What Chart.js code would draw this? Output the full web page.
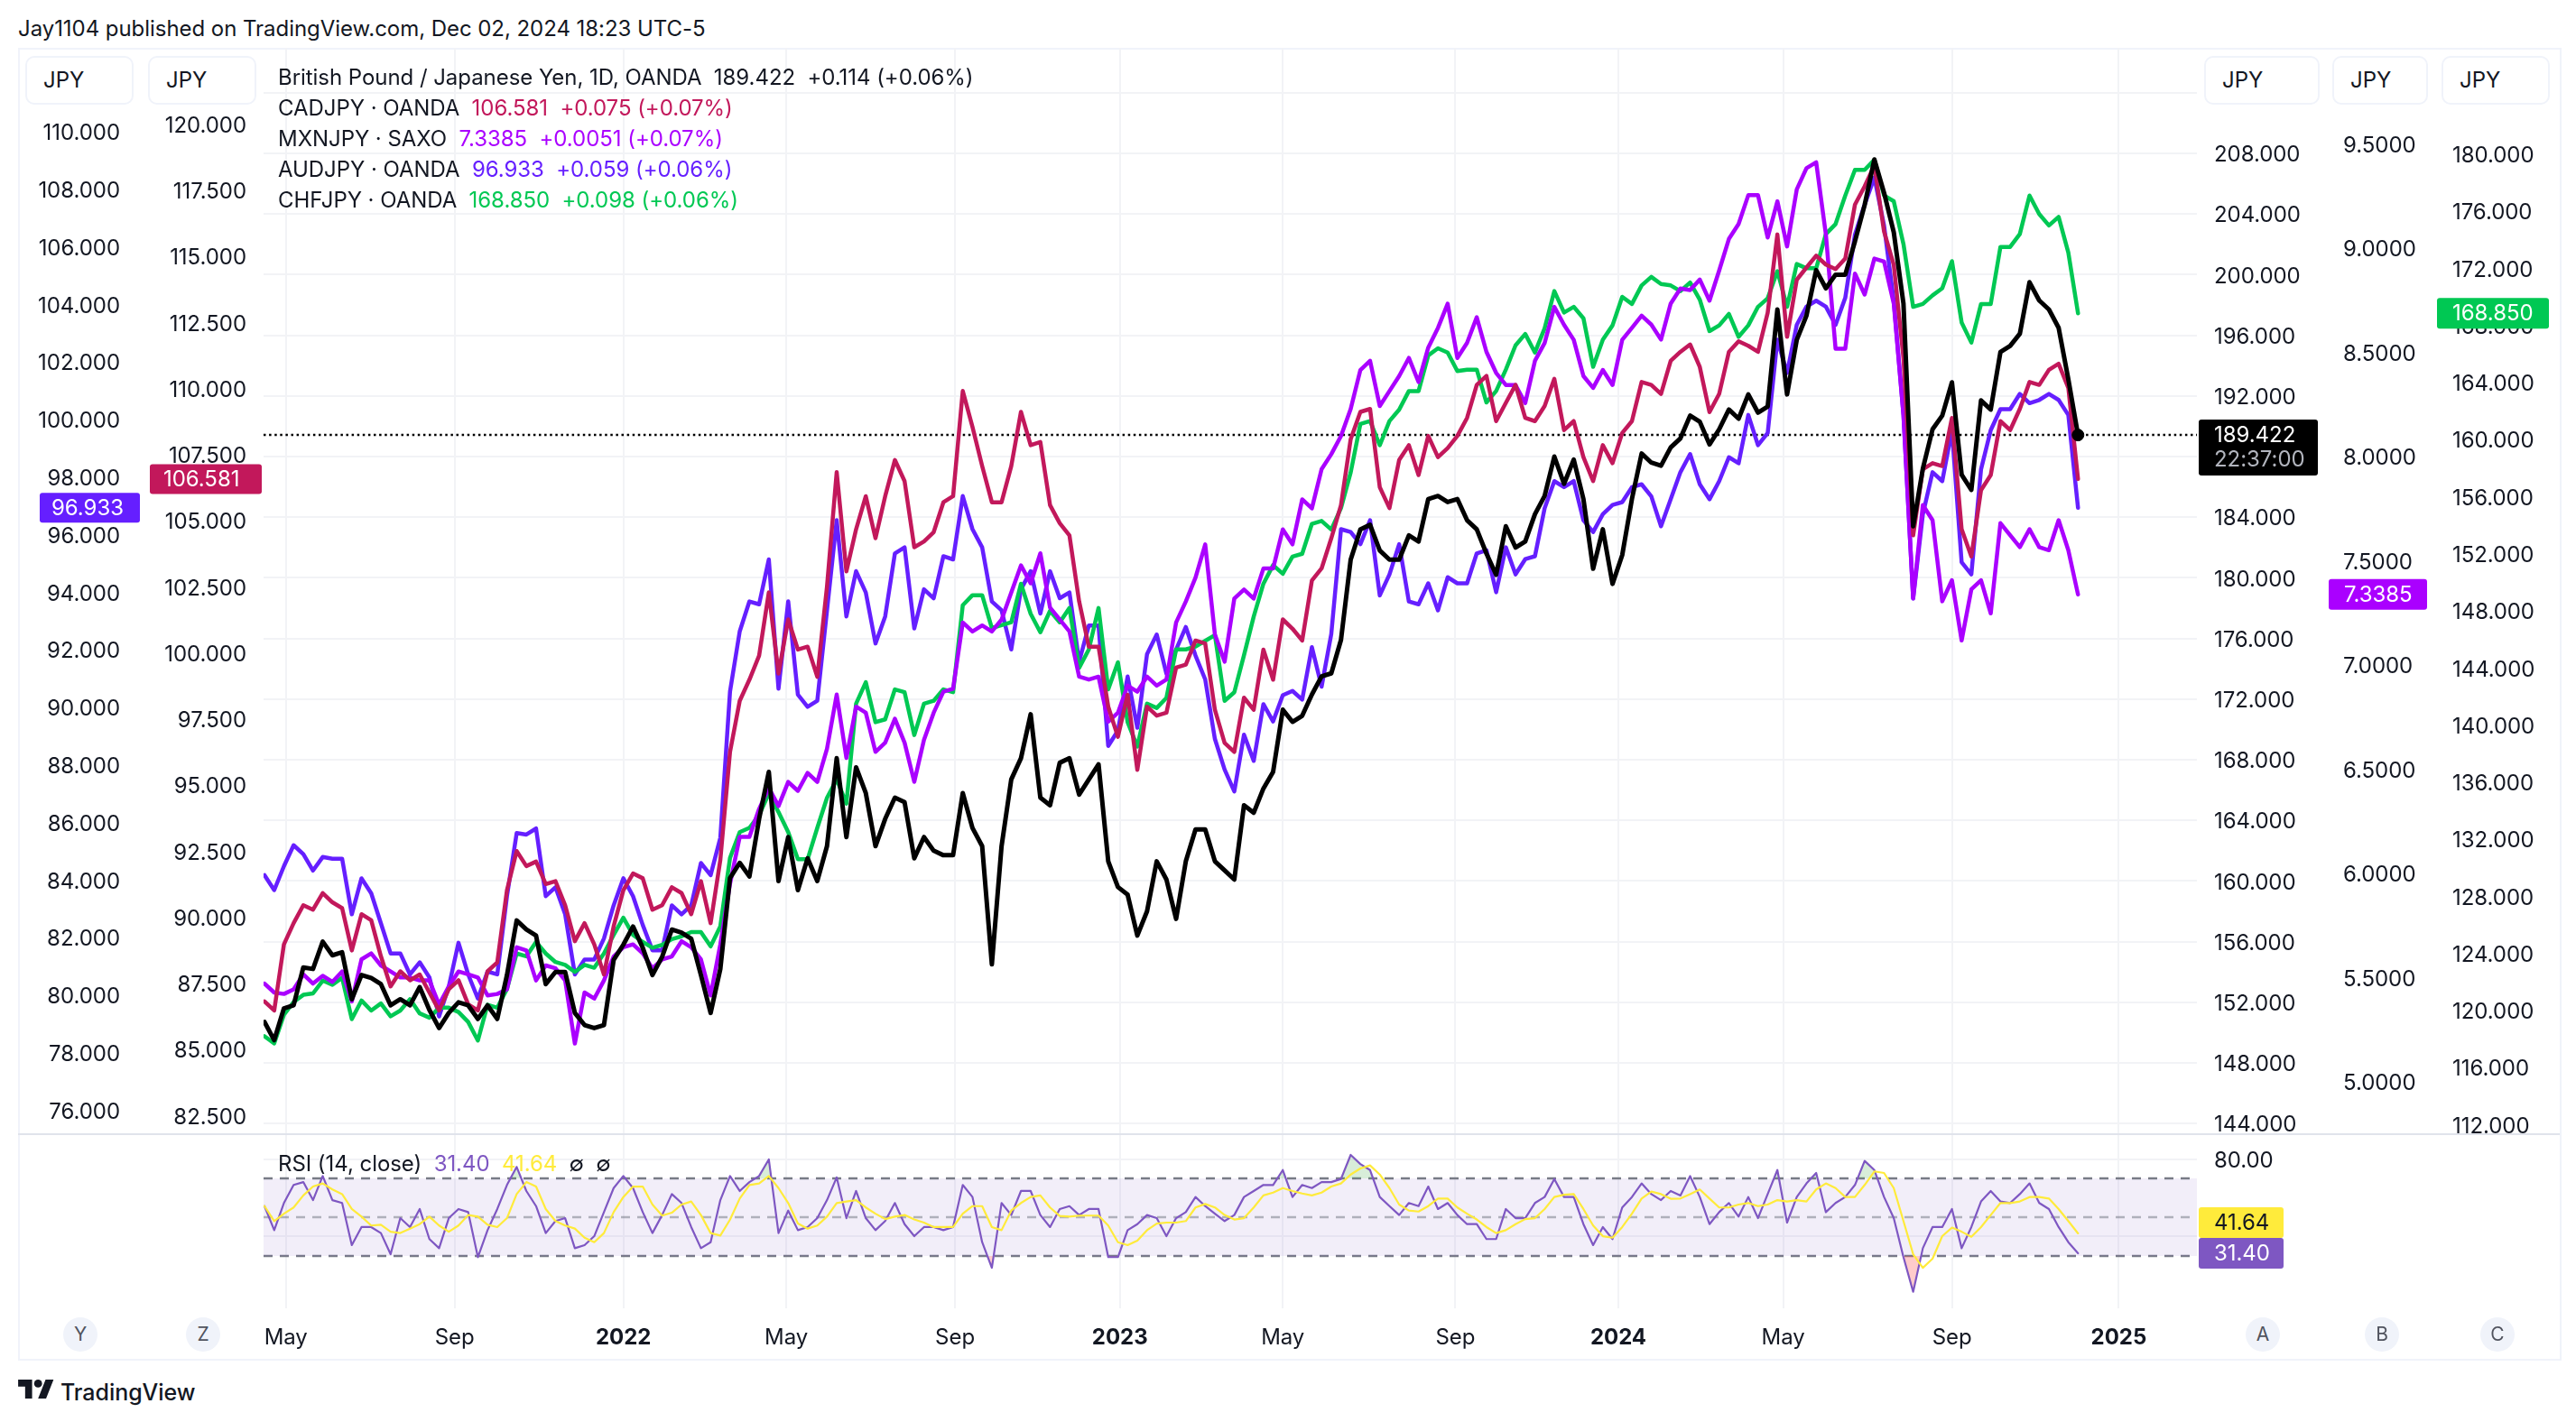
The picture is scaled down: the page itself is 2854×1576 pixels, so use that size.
<!DOCTYPE html>
<html>
<head>
<meta charset="utf-8">
<title>GBPJPY</title>
<script src="https://cdn.jsdelivr.net/npm/chart.js@4"></script>
<style>
html,body{margin:0;padding:0;background:#fff}
body{width:2854px;height:1576px;position:relative;overflow:hidden;font-family:Inter,sans-serif;color:#131722;font-size:24px;letter-spacing:-0.05px}
canvas{position:absolute;left:0}
.t{position:absolute;white-space:pre;line-height:34px;z-index:3}
.frame{position:absolute;left:20px;top:53px;width:2814px;height:1451px;border:2px solid #f0f3fa;box-sizing:content-box;z-index:0}
.sep{position:absolute;left:20px;top:1256px;width:2816px;height:2px;background:#e0e3eb;z-index:3}
.btn{position:absolute;top:62px;height:50px;border:2px solid #f0f3fa;border-radius:10px;background:#fff;z-index:3;line-height:50px;box-sizing:content-box}
.btn span{position:absolute;top:0}
.dot{position:absolute;top:1460px;width:38px;height:38px;border-radius:19px;background:#f0f3fa;color:#50535e;text-align:center;line-height:38px;font-size:21px;z-index:3}
</style>
</head>
<body>
<div class="t" style="left:20px;top:15px">Jay1104 published on TradingView.com, Dec 02, 2024 18:23 UTC-5</div>
<div class="frame"></div>
<canvas id="mainChart" style="top:53px"></canvas>
<canvas id="rsiChart" style="top:1257px"></canvas>
<div class="sep"></div>

<div class="btn" style="left:28px;width:116px"><span style="left:18px">JPY</span></div>
<div class="btn" style="left:164px;width:116px"><span style="left:18px">JPY</span></div>
<div class="btn" style="left:2442px;width:124px"><span style="left:18px">JPY</span></div>
<div class="btn" style="left:2584px;width:102px"><span style="left:18px">JPY</span></div>
<div class="btn" style="left:2705px;width:116px"><span style="left:18px">JPY</span></div>

<div class="t" style="left:308px;top:69px">British Pound / Japanese Yen, 1D, OANDA  189.422  +0.114 (+0.06%)</div>
<div class="t" style="left:308px;top:103px">CADJPY · OANDA  <span style="color:#c2185b">106.581  +0.075 (+0.07%)</span></div>
<div class="t" style="left:308px;top:137px">MXNJPY · SAXO  <span style="color:#aa00ff">7.3385  +0.0051 (+0.07%)</span></div>
<div class="t" style="left:308px;top:171px">AUDJPY · OANDA  <span style="color:#651fff">96.933  +0.059 (+0.06%)</span></div>
<div class="t" style="left:308px;top:205px">CHFJPY · OANDA  <span style="color:#00c853">168.850  +0.098 (+0.06%)</span></div>
<div class="t" style="left:308px;top:1273px">RSI (14, close)  <span style="color:#7e57c2">31.40</span>  <span style="color:#ffeb3b">41.64</span>  ∅  ∅</div>

<div class="dot" style="left:70px">Y</div>
<div class="dot" style="left:206px">Z</div>
<div class="dot" style="left:2488px">A</div>
<div class="dot" style="left:2620px">B</div>
<div class="dot" style="left:2748px">C</div>

<svg style="position:absolute;left:20px;top:1529px;z-index:3" width="40" height="21" viewBox="0 0 36 19"><path d="M14 19H7V7H0V0h14v19zM28 19h-8L27.500 0h8L28 19z" fill="#131722"/><circle cx="20" cy="4" r="4" fill="#131722"/></svg>
<div class="t" style="left:67px;top:1526px;font-size:25px;font-weight:500">TradingView</div>

<script>
// donnees, un point tous les 5 jours de bourse
const gbpjpy = [150.7,149.5,151.6,151.8,154.3,154.2,156.0,155.1,155.3,152.2,153.8,153.6,153.2,151.8,152.2,151.8,153.0,151.5,150.3,151.3,152.0,151.8,150.9,151.8,150.9,153.8,157.4,156.8,156.4,153.2,154.0,154.0,151.3,150.5,150.3,150.5,154.8,155.8,157.0,155.6,153.8,155.0,156.8,156.6,156.2,153.8,151.3,154.2,160.2,
161.2,160.3,164.1,167.2,160,162.9,159.4,161.5,160,162.3,168.1,162.9,167.5,165.8,162.3,164.1,165.5,165.2,161.5,162.9,162,161.7,161.7,165.8,163.5,162.3,154.5,162.3,166.7,168.1,171,165.5,165,167.8,168.1,165.7,166.7,167.7,
161.3,159.6,159.1,156.4,158,161.3,160.1,157.5,161.3,163.4,163.4,161.3,160.7,160.1,165,164.5,166.1,167.2,
171.3,170.5,170.9,172.3,173.5,173.7,175.9,181.2,183.2,183.5,181.8,181.2,181.2,182.8,182.4,185.2,185.4,185,185.2,183.8,183.2,181.6,180.2,183.4,182,182.4,184.2,185.4,188,186.2,187.8,185.2,180.6,183.2,179.6,181.5,185.2,
188.2,187.6,187.4,188.6,189.2,190.7,190.3,188.8,189.8,191.1,190.5,192.1,190.9,191.3,197.7,192.1,195.7,197.3,200.3,199.1,200,200,202.2,204.6,207.6,205.4,202.8,198.1,183.4,187.2,189.8,190.7,192.9,186.8,185.8,191.7,191.1,194.9,195.3,196.1,199.5,198.3,197.7,196.5,193.1,189.422]

const cadjpy = [86.82,86.48,88.98,89.78,90.46,90.29,90.92,90.57,90.35,88.75,90.12,89.89,88.53,87.39,87.96,87.62,87.84,87.16,86.48,87.28,87.62,86.71,86.48,87.96,88.3,91.03,92.51,91.94,92.11,91.26,91.37,90.46,89.1,89.78,88.98,87.84,89.66,91.03,91.66,91.48,90.29,90.46,91.14,90.92,90.12,91.37,89.78,92.17,
96.26,98.19,98.99,99.9,102.29,99.22,101.27,100.13,100.24,99.1,102.52,106.84,103.09,104.68,105.93,104.34,105.93,107.3,106.5,104,104.22,104.57,105.7,105.93,109.91,108.55,107.07,105.7,105.7,107.07,109.12,107.86,107.98,105.59,104.91,104.45,101.95,100.24,100.24,97.97,96.83,98.42,95.58,97.97,97.63,97.74,
99.45,99.56,100.47,100.36,97.85,96.6,96.26,98.31,97.85,100.13,98.99,101.27,100.92,100.47,102.74,103.2,104.34,105.59,108.09,109.12,109.23,106.27,105.48,107.3,107.86,106.73,108.21,107.41,107.75,108.21,108.89,110.14,110.48,108.77,109.46,110.14,108.89,108.77,109.34,110.37,108.43,108.77,107.41,106.5,107.86,107.18,108.32,108.77,
110.25,110.14,109.8,111.05,111.39,111.67,110.82,109.11,109.8,111.39,111.79,111.62,111.39,112.87,115.83,111.96,114.12,114.58,115.03,114.69,114.52,114.92,116.96,117.65,118.44,115.94,114.69,111.16,104.45,106.95,107.18,107.07,108.89,104.68,103.65,106.16,106.73,108.77,108.43,109.23,110.25,110.14,110.71,110.94,110.03,106.581]

const mxnjpy = [5.471,5.428,5.421,5.443,5.515,5.471,5.508,5.479,5.529,5.385,5.587,5.616,5.558,5.529,5.5,5.5,5.486,5.486,5.37,5.457,5.529,5.515,5.5,5.414,5.421,5.443,5.645,5.63,5.486,5.558,5.544,5.486,5.183,5.428,5.399,5.486,5.601,5.645,5.659,5.616,5.544,5.587,5.601,5.674,5.645,5.587,5.414,5.659,5.95,
6.175,6.175,6.309,6.41,6.323,6.439,6.396,6.482,6.439,6.598,6.858,6.554,6.8,6.771,6.583,6.627,6.742,6.627,6.439,6.641,6.771,6.872,6.886,7.204,7.161,7.19,7.161,7.218,7.348,7.478,7.392,7.536,7.276,7.218,7.161,6.944,6.93,6.944,6.728,6.771,6.901,6.872,6.944,6.901,6.93,
7.204,7.305,7.42,7.579,7.146,7.016,7.319,7.362,7.319,7.463,7.463,7.651,7.579,7.795,7.752,7.94,8.012,8.099,8.229,8.416,8.46,8.243,8.315,8.387,8.474,8.358,8.524,8.618,8.734,8.474,8.546,8.669,8.503,8.402,8.344,8.344,8.257,8.46,8.546,8.719,8.633,8.561,8.387,8.33,8.416,8.344,8.561,8.618,
8.677,8.634,8.562,8.735,8.807,8.8,8.85,8.749,8.894,9.045,9.117,9.255,9.255,9.052,9.226,9.009,9.283,9.385,9.413,9.067,8.518,8.518,8.879,8.778,8.951,8.937,8.735,8.2,7.32,7.768,7.695,7.306,7.407,7.118,7.363,7.407,7.248,7.681,7.623,7.566,7.652,7.566,7.551,7.695,7.551,7.3385]

const audjpy = [84.17,83.65,84.48,85.21,84.9,84.33,84.8,84.74,84.74,82.81,84.06,83.54,82.5,81.45,81.45,80.72,81.14,80.62,79.26,80.3,81.82,80.72,79.88,80.82,80.72,83.44,85.63,85.58,85.79,83.44,83.75,82.81,80.72,81.24,81.24,81.97,83.12,84.06,83.44,82.44,81.56,81.56,83.12,82.81,83.12,84.59,84.17,85.47,
90.55,92.64,93.68,93.58,95.14,90.65,93.68,90.44,90.02,90.23,93.37,96.5,93.16,94.73,93.99,92.22,93.16,95.35,95.56,92.74,94.1,93.79,95.25,95.14,97.34,96.19,95.56,93.68,93.37,92.01,94.1,94.73,93.26,94.73,93.79,93.99,91.59,92.84,92.84,88.66,89.19,91.07,89.29,91.85,92.53,91.17,
92.01,92.79,91.8,90.97,88.9,87.84,87.08,89.05,88.14,90.11,89.51,90.42,90.57,90.27,92.09,90.72,92.55,96.19,
96.09,95.67,96.5,93.89,94.62,95.67,93.68,93.58,94.31,93.37,94.52,94.31,94.31,95.35,95.46,94,95.56,94.62,95.15,95.25,96.92,97.86,97.65,97.86,96.5,96.09,96.71,97.03,97.13,97.65,
97.75,97.33,96.29,97.23,98.17,98.8,97.75,97.23,97.86,98.69,98.48,100.16,99.11,99.53,102.77,101.62,103.29,103.92,104.13,103.92,103.29,104.23,106.43,107.47,108.41,106.74,104.13,100.16,93.78,96.71,98.17,97.86,99.63,95.04,94.62,98.27,99.63,100.36,100.36,100.89,100.57,100.68,100.89,100.68,100.16,96.933]

const chfjpy = [118.2,117.7,119.7,120.6,121.1,121.2,122.1,121.8,122.3,119.4,120.7,120,120.5,119.6,120,120.8,119.8,119.5,120.2,120.2,119.9,119.2,117.9,120.4,120.2,121.5,124,123.8,124.8,124,123.4,123.2,122.7,123.2,123,124,125.3,126.5,125.3,124.8,124.4,124.6,125,125.2,125.5,125.5,124.5,125.9,130.7,
132.5,132.8,133.7,135.2,133.9,132.5,130.6,130.6,132.8,134.9,
136.2,134.5,141.5,143,140.2,140.4,142.5,142.3,139.3,141.5,141.7,142.5,142.3,148.4,149.1,149.1,146.8,147,147.2,149.9,147.8,146.5,148,147.2,148.2,144,145.3,148.2,142.5,144.4,140.2,138.5,141.5,141.2,141.9,
145.3,145.3,145.5,145.9,146.3,141.7,142.3,144.9,147.6,149.9,151.2,150.6,151.8,152,154.1,154.3,153.7,155.2,157.7,161.1,161.3,159.6,161.3,162.1,163.4,163.4,165.9,166.4,166.1,164.8,164.9,164.9,162.6,163.4,164.9,166.6,167.4,166.1,167.8,170.4,168.9,169.3,168.5,165.1,167,168,170,169.5,
170.8,171.4,170.9,170.8,170.4,171,169.8,167.6,168,168.8,167.2,168,169.3,169.9,171.8,169.3,172.3,172,172,174.4,175.1,177.1,178.9,178.9,179.6,177.1,176.7,173.7,169.3,169.5,170.1,170.6,172.5,168.2,166.8,169.5,169.5,173.5,173.5,174.4,177.1,175.8,175,175.6,173.1,168.85]

const rsi = [55.7,43.3,57.3,66.6,68.1,58.8,71.2,58.8,57.3,35.6,44.9,44.9,41.8,30.9,49.5,44.9,54.2,38.7,34,49.5,54.2,52.6,29.4,43.3,54.2,66.6,75.9,63.5,55.7,41.8,48,49.5,34,35.6,40.2,52.6,65,71.2,65,52.6,41.8,51.1,61.9,57.3,44.9,34,37.1,58.8,71.2,63.5,68.1,71.2,79.8,41.8,53.4,43.3,44.9,49.5,58.8,70.5,49.5,63.5,49.5,43.3,48,57.3,46.4,40.2,44.9,44.9,43.3,44.9,66.6,60.4,37.1,23.9,57.3,51.1,63.5,63.5,51.1,44.9,54.2,55.7,51.1,54.2,54.2,29.4,29.4,43.3,46.4,51.1,49.5,40.2,
49.5,52.6,60.4,55.7,51.8,48,51.1,60.4,63.5,66.6,66.6,74.3,60.4,66.6,65,68.1,68.1,69.7,82.1,77.4,74.3,60.4,55.7,51.1,57.3,55.7,65.8,54.2,57.3,51.1,46.4,46.4,38.7,38.7,54.2,49.5,49.5,57.3,60.4,69.7,60.4,60.4,46.4,35.6,44.9,38.7,55,60.4,67.4,61.9,58.8,63.5,61.2,71.2,60.4,46.4,52.6,57.3,50.3,60.4,49.5,61.9,74.3,47.2,60.4,67.4,72.8,52.6,57.3,60.4,66.6,79,74.3,60.4,49.5,29.4,11.5,34,44.9,44.9,54.2,34,44.9,58.1,63.5,58.1,57.3,61.9,67.4,57.3,54.2,44.9,37.1,31.4]

const rsiMa = [55.7,48,51.8,55,61.2,65.8,67.4,64.3,61.9,54.2,50.3,45.7,46.1,42.5,41.8,44.1,46.4,50.3,45.7,42.5,45.7,51.1,50.3,46.1,44.9,49.5,61.9,68.1,65.8,54.2,48,45.7,44.1,39.4,37.1,41.8,52.6,60.4,65.8,65.8,56.5,50.8,52.3,56.5,58.1,51.1,41.8,40.5,48.7,59.6,66.6,67.4,71.2,65,57.3,46.7,44.1,45.7,50.3,57.3,58.1,58.8,55,51.8,49,50.3,51.1,48.8,47.2,44.9,44.9,44.9,51.8,55.7,55.7,44.9,43.3,53.4,57.3,60.4,61.2,55,50.6,50.3,50.8,50.8,50.8,45.7,37.1,35.6,37.9,43.3,46.7,47.2,
47.2,48,55,56.8,55,51.1,48.8,49.5,55,61.2,62.7,65,63.5,62.2,61.2,62.7,65.8,67.4,72,75.1,76.7,72,65,56.5,53.4,52.9,55.7,59.6,59.6,55,51.8,48.8,44.9,41.8,43.3,46.4,49,49.5,54.2,60.4,61.6,61.9,54.2,45.7,40.2,39.4,44.9,51.8,59.6,63.2,61.9,59.5,59.6,61.9,64.3,59.6,55,55,56.5,57.3,55.7,56.5,58.8,58.1,58.8,58.1,64.3,67.4,65,60.4,60.4,66.6,73.6,72.8,65,48,30.9,23.9,28.6,40.2,44.6,42.5,39.9,44.9,51.1,57.3,57.3,58.1,60.4,60.4,59.6,54.2,48,41.64]

// graduations
const gbpTicks = [212,208,204,200,196,192,188,184,180,176,172,168,164,160,156,152,148,144]
const mxnTicks = [9.5,9,8.5,8,7.5,7,6.5,6,5.5,5]
const chfTicks = [180,176,172,168,164,160,156,152,148,144,140,136,132,128,124,120,116,112]
const audTicks = [110,108,106,104,102,100,98,96,94,92,90,88,86,84,82,80,78,76]
const cadTicks = [120,117.5,115,112.5,110,107.5,105,102.5,100,97.5,95,92.5,90,87.5,85,82.5]
const rsiTicks = [80,40]
const timeTickBars = [11,98,185,269,356,441,525,614,698,783,870,956]
const timeTickLabels = ["May","Sep","2022","May","Sep","2023","May","Sep","2024","May","Sep","2025"]

const sampleEvery = 5
const xMin = -0.5
const xMax = 996.3

const INK = "#131722"
const GRID = "#f2f3f6"
const CAD = "#c2185b"
const MXN = "#aa00ff"
const AUD = "#651fff"
const CHF = "#00c853"
const RSI = "#7e57c2"
const MA = "#ffeb3b"

Chart.defaults.font.family = "Inter, sans-serif"
Chart.defaults.font.size = 24
Chart.defaults.color = INK

function pts(arr){
return arr.map((v,i)=>({x:i*sampleEvery,y:v}))
}

function flat(v){
return [{x:xMin,y:v},{x:xMax,y:v}]
}

function yAxis(position,weight,width,pad,min,max,list,digits,grid){
return {
type:"linear",
position:position,
weight:weight,
min:min,
max:max,
border:{display:false},
grid:grid ? {color:GRID,lineWidth:2,drawTicks:false} : {display:false,drawTicks:false},
ticks:{padding:pad,autoSkip:false,labelOffset:2,callback:v=>v.toFixed(digits)},
afterBuildTicks:s=>{s.ticks=list.map(v=>({value:v}))},
afterFit:s=>{s.width=width;s.paddingTop=0;s.paddingBottom=0}
}
}

function xAxis(showLabels,height){
return {
type:"linear",
min:xMin,
max:xMax,
border:{display:false},
grid:{color:GRID,lineWidth:2,drawTicks:false},
ticks:{
display:showLabels,
padding:18,
autoSkip:false,
maxRotation:0,
callback:(v,i)=>timeTickLabels[i],
font:c=>{
let label = timeTickLabels[c.index]
return {weight:label && label.length==4 ? "700" : "400"}
}
},
afterBuildTicks:s=>{s.ticks=timeTickBars.map(v=>({value:v}))},
afterFit:s=>{s.height=height;s.paddingLeft=0;s.paddingRight=0}
}
}

function badge(ctx,x1,x2,yc,h,bg,lines,textX){
ctx.save()
ctx.fillStyle = bg
ctx.beginPath()
ctx.roundRect(x1,yc-h/2,x2-x1,h,3)
ctx.fill()
ctx.textBaseline = "middle"
ctx.textAlign = "left"
ctx.font = "24px Inter, sans-serif"
lines.forEach(l=>{
ctx.fillStyle = l.color
ctx.fillText(l.text,textX,yc+l.dy)
})
ctx.restore()
}

const lastValues = {
id:"lastValues",
afterDraw(c){
let s = c.scales
let ctx = c.ctx
let yAud = s.yAud.getPixelForValue(audjpy[audjpy.length-1])
let yCad = s.yCad.getPixelForValue(cadjpy[cadjpy.length-1])
let yMxn = s.yMxn.getPixelForValue(mxnjpy[mxnjpy.length-1])
let yChf = s.yChf.getPixelForValue(chfjpy[chfjpy.length-1])
let yGbp = s.yGbp.getPixelForValue(gbpjpy[gbpjpy.length-1])
badge(ctx,44,155,yAud,33,AUD,[{text:"96.933",color:"#fff",dy:1}],57)
badge(ctx,166,290,yCad,33,CAD,[{text:"106.581",color:"#fff",dy:1}],181)
badge(ctx,2436,2568,yGbp+14,62,"#000",[{text:"189.422",color:"#fff",dy:-13},{text:"22:37:00",color:"#b2b5be",dy:14}],2453)
badge(ctx,2580,2689,yMxn,34,MXN,[{text:"7.3385",color:"#fff",dy:1}],2597)
badge(ctx,2700,2824,yChf,34,CHF,[{text:"168.850",color:"#fff",dy:1}],2717)
}
}

const rsiValues = {
id:"rsiValues",
afterDraw(c){
let y = c.scales.yRsi.getPixelForValue(rsi[rsi.length-1])
badge(c.ctx,2436,2530,y,34,RSI,[{text:"31.40",color:"#fff",dy:1}],2453)
badge(c.ctx,2436,2530,y-34,34,MA,[{text:"41.64",color:"#131722",dy:1}],2453)
}
}

function line(label,arr,color,yID,width){
return {label:label,data:pts(arr),borderColor:color,borderWidth:width,pointRadius:0,yAxisID:yID,tension:0,fill:false,borderJoinStyle:"round",borderCapStyle:"round"}
}

const mainCanvas = document.getElementById("mainChart")
mainCanvas.width = 2854
mainCanvas.height = 1204

new Chart(mainCanvas,{
type:"line",
data:{
datasets:[
{label:"last",data:[{x:(gbpjpy.length-1)*sampleEvery,y:gbpjpy[gbpjpy.length-1]}],yAxisID:"yGbp",pointRadius:6.5,backgroundColor:"#000",borderColor:"#000",showLine:false},
line("GBPJPY",gbpjpy,"#000","yGbp",5),
line("CADJPY",cadjpy,CAD,"yCad",4.5),
line("MXNJPY",mxnjpy,MXN,"yMxn",4.5),
line("CHFJPY",chfjpy,CHF,"yChf",4.5),
line("AUDJPY",audjpy,AUD,"yAud",4.5),
{label:"price",data:flat(gbpjpy[gbpjpy.length-1]),yAxisID:"yGbp",borderColor:"#000",borderWidth:2.5,borderDash:[2.5,3.6],pointRadius:0}
]
},
plugins:[lastValues],
options:{
responsive:false,
animation:false,
devicePixelRatio:1,
events:[],
layout:{padding:0,autoPadding:false},
plugins:{legend:{display:false},title:{display:false},tooltip:{enabled:false}},
scales:{
x:xAxis(false,0),
yAud:yAxis("left",2,158,25,75.17,112.915,audTicks,3,false),
yCad:yAxis("left",1,134,19,81.8,122.89,cadTicks,3,false),
yGbp:yAxis("right",1,141,19,143.3,214.964,gbpTicks,3,true),
yMxn:yAxis("right",2,122,21,4.748,9.9625,mxnTicks,4,false),
yChf:yAxis("right",3,157,20,111.34,187.446,chfTicks,3,false)
}
}
})

const rsiCanvas = document.getElementById("rsiChart")
rsiCanvas.width = 2854
rsiCanvas.height = 246

new Chart(rsiCanvas,{
type:"line",
data:{
datasets:[
line("MA",rsiMa,MA,"yRsi",2.2),
line("RSI",rsi,RSI,"yRsi",2.2),
{label:"over",data:pts(rsi),yAxisID:"yRsi",borderWidth:0,pointRadius:0,fill:{target:{value:70},above:"rgba(76,175,80,.22)",below:"rgba(0,0,0,0)"}},
{label:"under",data:pts(rsi),yAxisID:"yRsi",borderWidth:0,pointRadius:0,fill:{target:{value:30},above:"rgba(0,0,0,0)",below:"rgba(255,82,82,.3)"}},
{label:"mid",data:flat(50),yAxisID:"yRsi",borderColor:"rgba(120,123,134,.55)",borderWidth:2.5,borderDash:[10,8],pointRadius:0},
{label:"top",data:flat(70),yAxisID:"yRsi",borderColor:"#787b86",borderWidth:2.5,borderDash:[10,8],pointRadius:0,fill:"+1",backgroundColor:"rgba(126,87,194,.1)"},
{label:"bottom",data:flat(30),yAxisID:"yRsi",borderColor:"#787b86",borderWidth:2.5,borderDash:[10,8],pointRadius:0}
]
},
plugins:[rsiValues],
options:{
responsive:false,
animation:false,
devicePixelRatio:1,
events:[],
layout:{padding:{left:292},autoPadding:false},
plugins:{legend:{display:false},title:{display:false},tooltip:{enabled:false}},
scales:{
x:xAxis(true,53),
yRsi:yAxis("right",1,420,19,3,92.8,rsiTicks,2,true)
}
}
})
</script>
</body>
</html>
